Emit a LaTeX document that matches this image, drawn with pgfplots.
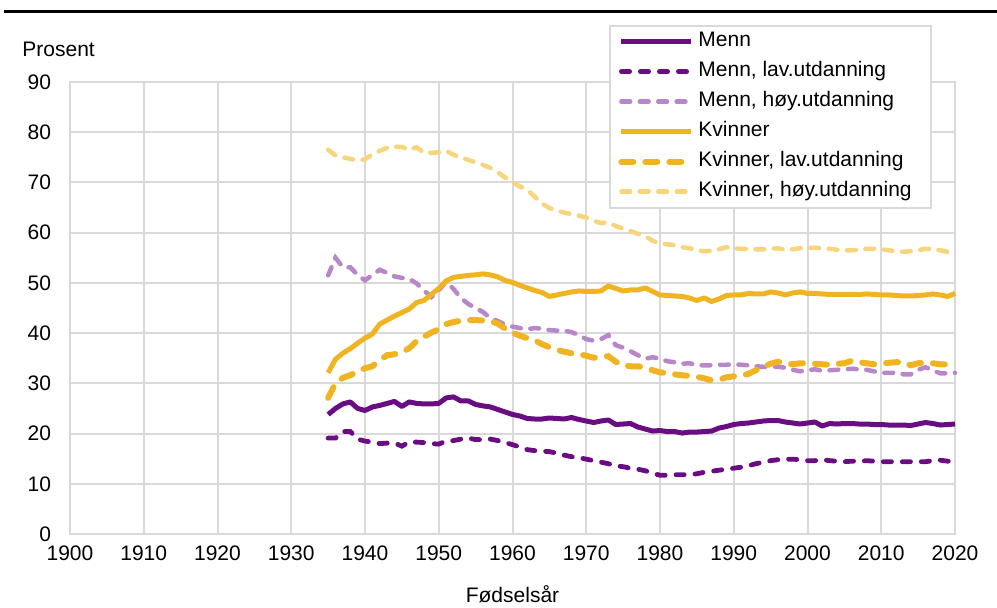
\documentclass[border=0pt]{standalone}
\usepackage{pgfplots}
\pgfplotsset{compat=1.18}
\usepackage{pgfplotstable}
\usepackage{fontspec}
\setmainfont{Liberation Sans}
\definecolor{mdark}{RGB}{106,13,131}
\definecolor{mlight}{RGB}{184,135,201}
\definecolor{kdark}{RGB}{240,180,35}
\definecolor{klight}{RGB}{247,213,124}
\definecolor{gridc}{RGB}{217,217,217}

\pgfplotstableread{
year m ml mh k kl kh
1935 23.8 19.1 51.5 32.1 27.1 76.5
1936 25.0 19.1 55.0 34.8 30.0 75.4
1937 25.9 20.4 53.1 36.0 31.1 75.0
1938 26.3 20.4 53.1 36.9 31.6 74.7
1939 25.0 18.9 51.6 38.0 32.4 74.4
1940 24.6 18.5 50.5 39.0 33.0 74.6
1941 25.3 18.3 51.6 39.8 33.4 75.6
1942 25.6 18.0 52.6 41.8 34.6 76.3
1943 26.0 18.1 52.0 42.6 35.6 76.9
1944 26.4 18.1 51.3 43.4 35.8 77.1
1945 25.4 17.5 51.0 44.1 36.2 77.1
1946 26.3 18.3 50.8 44.8 37.0 76.5
1947 26.0 18.3 49.9 46.1 38.4 77.0
1948 25.9 18.2 48.5 46.5 39.3 75.9
1949 25.9 18.0 47.2 47.7 40.1 75.9
1950 26.0 17.9 48.5 48.9 40.8 76.0
1951 27.1 18.5 50.3 50.4 41.8 76.3
1952 27.3 18.6 48.8 51.1 42.2 75.5
1953 26.5 18.9 47.0 51.3 42.5 75.0
1954 26.5 19.1 45.8 51.5 42.6 74.5
1955 25.8 18.8 45.0 51.6 42.6 74.0
1956 25.5 18.8 44.2 51.8 42.5 73.5
1957 25.3 18.9 43.0 51.6 42.4 72.9
1958 24.8 18.6 42.4 51.2 41.9 72.0
1959 24.3 18.2 41.7 50.5 40.9 71.0
1960 23.8 17.8 41.3 50.1 40.1 70.1
1961 23.5 17.3 41.0 49.5 39.5 69.2
1962 23.0 16.8 40.8 49.0 39.0 68.5
1963 22.9 16.6 41.0 48.5 38.6 67.2
1964 22.9 16.5 40.9 48.1 37.8 65.8
1965 23.1 16.4 40.6 47.3 37.2 64.9
1966 23.0 16.1 40.5 47.6 36.7 64.4
1967 22.9 15.7 40.5 47.9 36.3 64.0
1968 23.2 15.4 40.2 48.2 36.0 63.7
1969 22.8 15.2 39.6 48.4 35.8 63.4
1970 22.5 14.9 38.8 48.3 35.5 63.0
1971 22.2 14.6 38.5 48.3 35.1 62.4
1972 22.5 14.3 38.8 48.4 35.3 61.9
1973 22.7 14.0 39.6 49.4 35.4 62.1
1974 21.8 13.6 37.6 48.9 34.3 61.3
1975 21.9 13.4 37.1 48.4 33.6 60.8
1976 22.0 13.1 36.4 48.6 33.4 60.3
1977 21.3 12.9 35.6 48.6 33.4 59.8
1978 20.9 12.6 34.9 49.0 33.1 59.3
1979 20.5 12.1 35.2 48.3 32.6 58.4
1980 20.6 11.7 34.9 47.6 32.2 57.8
1981 20.4 11.7 34.4 47.5 32.0 57.7
1982 20.4 11.8 34.2 47.4 31.8 57.5
1983 20.1 11.8 33.9 47.3 31.6 57.1
1984 20.3 11.8 34.0 47.0 31.5 56.9
1985 20.3 12.0 33.6 46.5 31.3 56.5
1986 20.4 12.3 33.6 47.0 31.0 56.3
1987 20.5 12.5 33.6 46.3 30.6 56.4
1988 21.1 12.7 33.7 46.8 30.7 56.7
1989 21.4 12.9 33.7 47.5 31.2 57.1
1990 21.8 13.1 33.8 47.6 31.4 56.9
1991 22.0 13.3 33.7 47.6 31.5 56.8
1992 22.1 13.6 33.6 47.9 31.9 56.7
1993 22.3 14.0 33.4 47.8 32.6 56.7
1994 22.5 14.3 33.3 47.8 33.3 56.7
1995 22.6 14.6 33.3 48.2 33.9 56.8
1996 22.6 14.8 33.3 48.0 34.3 56.9
1997 22.3 14.9 33.1 47.6 34.0 56.6
1998 22.1 14.9 32.7 48.0 33.8 56.7
1999 21.9 14.8 32.4 48.2 34.0 56.9
2000 22.1 14.6 32.6 47.9 34.0 57.0
2001 22.3 14.6 32.8 47.9 33.9 57.0
2002 21.5 14.8 32.5 47.8 33.8 56.9
2003 22.0 14.6 32.6 47.7 33.7 56.8
2004 21.9 14.5 32.7 47.7 33.9 56.6
2005 22.0 14.4 32.8 47.7 34.0 56.5
2006 22.0 14.5 32.9 47.7 34.5 56.5
2007 21.9 14.5 32.8 47.7 34.2 56.6
2008 21.9 14.6 32.7 47.8 34.0 56.8
2009 21.8 14.5 32.4 47.7 33.8 56.8
2010 21.8 14.4 32.1 47.6 33.9 56.7
2011 21.7 14.4 32.1 47.6 34.1 56.5
2012 21.7 14.4 32.1 47.5 34.2 56.3
2013 21.7 14.4 31.8 47.4 34.3 56.2
2014 21.6 14.4 31.8 47.4 33.6 56.3
2015 21.9 14.4 32.7 47.5 34.0 56.5
2016 22.2 14.4 33.2 47.6 34.1 56.8
2017 22.0 14.6 32.6 47.8 34.0 56.7
2018 21.7 14.7 32.0 47.6 33.8 56.5
2019 21.8 14.5 32.0 47.3 33.8 56.2
2020 21.9 14.5 32.1 47.9 34.3 56.2
}\datatable

\begin{document}
\begin{tikzpicture}[font=\fontsize{10.5}{12.6}\selectfont]
\useasboundingbox (0,0) rectangle (498.5pt,303.5pt);
\fill[black] (2pt,296.8pt) rectangle (498.5pt,298.6pt);
\node[anchor=west, inner sep=0pt] at (11pt,279pt) {Prosent};
\begin{axis}[
  at={(35pt,36.5pt)}, anchor=south west,
  width=442.5pt, height=226pt, scale only axis,
  xmin=1900, xmax=2020, ymin=0, ymax=90,
  xtick={1900,1910,...,2020}, ytick={0,10,...,90},
  grid=major, major grid style={gridc, line width=1pt},
  axis line style={gridc, line width=1pt},
  tick style={draw=none},
  /pgf/number format/assume math mode=true,
  /pgf/number format/1000 sep={},
  xticklabel style={anchor=center, yshift=-9.5pt},
  yticklabel style={anchor=east, xshift=-6pt},
  xlabel={Fødselsår},
  xlabel style={at={(rel axis cs:0.5,0)}, anchor=center, yshift=-30.3pt},
  legend cell align=left,
  legend image code/.code={\draw[#1] (0pt,0pt) -- (35pt,0pt);},
  legend style={at={(rel axis cs:0.6095,1.127)}, anchor=north west,
    draw=gridc, line width=1pt, fill=white,
    inner xsep=4pt, inner ysep=0.5pt, row sep=0pt,
    nodes={inner xsep=2pt, inner ysep=2.5pt, text height=7.5pt, text depth=2.5pt}},
  clip=false,
]
\addplot[mdark, line width=2.5pt, line join=round] table[x=year,y=m] {\datatable};
\addlegendentry{Menn}
\addplot[mdark, line width=2.4pt, line cap=round, dash pattern=on 4.1pt off 5.4pt] table[x=year,y=ml] {\datatable};
\addlegendentry{Menn, lav.utdanning}
\addplot[mlight, line width=2.25pt, line cap=round, dash pattern=on 4.4pt off 4.8pt] table[x=year,y=mh] {\datatable};
\addlegendentry{Menn, høy.utdanning}
\addplot[kdark, line width=2.5pt, line join=round] table[x=year,y=k] {\datatable};
\addlegendentry{Kvinner}
\addplot[kdark, line width=3pt, line cap=round, dash pattern=on 6pt off 6pt] table[x=year,y=kl] {\datatable};
\addlegendentry{Kvinner, lav.utdanning}
\addplot[klight, line width=2.25pt, line cap=round, dash pattern=on 4.4pt off 4.8pt] table[x=year,y=kh] {\datatable};
\addlegendentry{Kvinner, høy.utdanning\hspace*{3.5pt}}
\end{axis}
\end{tikzpicture}
\end{document}
